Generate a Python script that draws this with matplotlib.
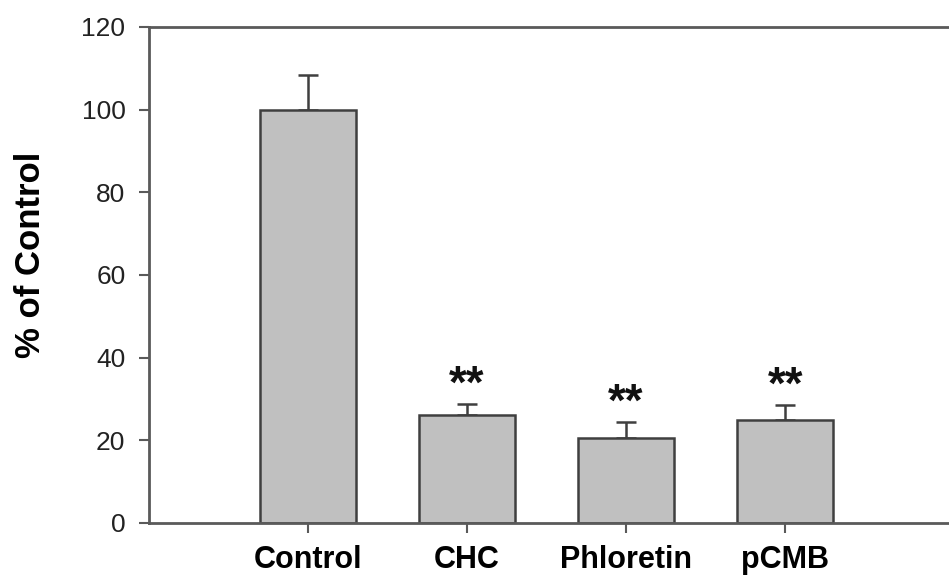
import matplotlib.pyplot as plt

plt.rcParams['font.family'] = ['Liberation Sans', 'DejaVu Sans']

# Uptake relative to control, mean and SEM
groups = ["Control", "CHC", "Phloretin", "pCMB"]
means = [100.0, 26.1, 20.5, 24.9]
sems = [8.5, 2.7, 4.0, 3.7]
marks = ["", "**", "**", "**"]

BAR_FACE = "#c0c0c0"
EDGE = "#3f3f3f"
SPINE = "#5a5a5a"

fig = plt.figure(figsize=(9.49, 5.81), dpi=100)
ax = fig.add_axes([149 / 949, 1 - 523 / 581, 1 - 149 / 949, (523 - 27) / 581])

x = list(range(1, len(groups) + 1))
ax.bar(x, means, width=0.6, color=BAR_FACE, edgecolor=EDGE, linewidth=1.8, zorder=2)
ax.errorbar(x, means, yerr=[[0] * len(sems), sems], fmt="none",
            ecolor=EDGE, elinewidth=1.8, capsize=7, capthick=1.8, zorder=1)

# significance stars sit just above each error cap
for xi, m, s, lab in zip(x, means, sems, marks):
    if lab:
        ax.text(xi, m + s + 1.4, lab, ha="center", va="baseline",
                fontsize=33, fontweight="bold", color="#111111")

ax.set_xlim(0, 5.03)
ax.set_ylim(0, 120)
ax.set_yticks(range(0, 121, 20))
ax.set_xticks(x)
ax.set_xticklabels(groups, fontsize=22, fontweight="bold")
ax.tick_params(axis="y", labelsize=19, direction="out", length=7, width=1.5,
               color=SPINE, pad=10, labelcolor="#222222")
ax.tick_params(axis="x", direction="out", length=7, width=1.5, color=SPINE, pad=9)
ax.set_ylabel("% of Control", fontsize=25, fontweight="bold")
ax.yaxis.set_label_coords(-0.127, 0.54)

for side in ["left", "bottom", "top"]:
    ax.spines[side].set_color(SPINE)
    ax.spines[side].set_linewidth(2.0)
ax.spines["right"].set_visible(False)

fig.savefig("out.png", dpi=100)
